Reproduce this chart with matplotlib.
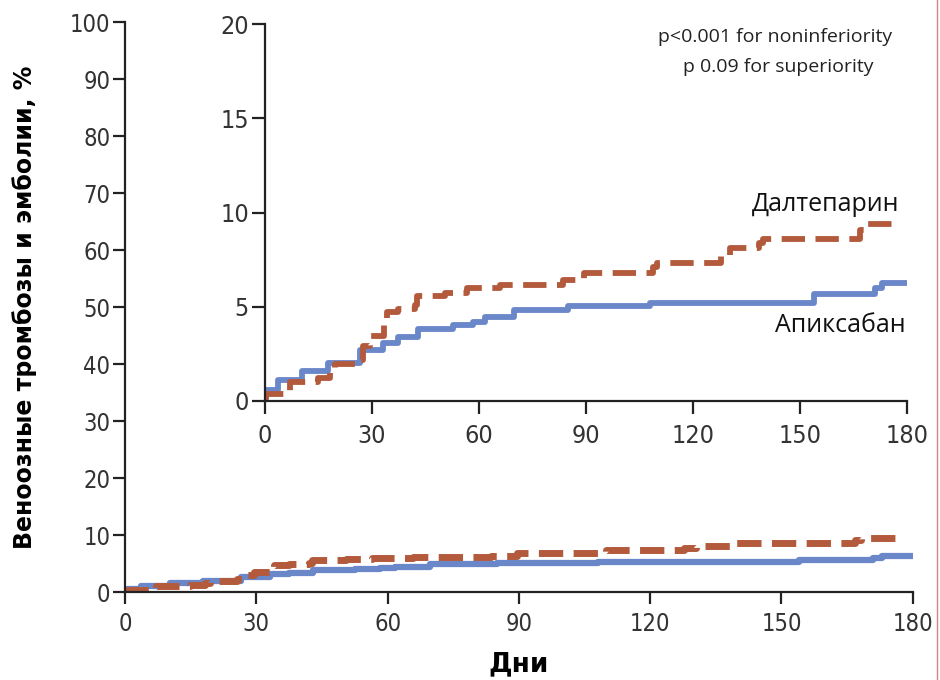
import matplotlib.pyplot as plt
from matplotlib.lines import Line2D

# Апиксабан (blue, solid)
t_apix = [0, 0.4, 3.7, 10.3, 17.8, 26.5, 33.1, 37.4, 42.9, 52.6, 58.2, 61.8, 69.7,
          84.9, 108, 154, 171, 173, 180]
v_apix = [0.2, 0.6, 1.1, 1.6, 2.0, 2.7, 3.1, 3.4, 3.8, 4.05, 4.2, 4.45, 4.85,
          5.05, 5.2, 5.65, 6.0, 6.25, 6.25]

# Далтепарин (red, dashed)
t_dalt = [0, 0.4, 7.0, 14.9, 18.2, 19.5, 25.5, 27.5, 29.4, 33.4, 34.1, 37.4, 42.0,
          42.7, 50.6, 56.5, 65.8, 83.6, 89.5, 108.7, 110, 127.8, 130.5, 138.4, 139.7,
          166.8, 168.1, 178]
v_dalt = [0.1, 0.35, 1.0, 1.2, 1.5, 1.95, 2.2, 2.9, 3.45, 4.2, 4.7, 4.9, 5.1,
          5.55, 5.75, 6.0, 6.15, 6.4, 6.8, 7.1, 7.3, 7.75, 8.1, 8.4, 8.6,
          9.05, 9.4, 9.4]

x_ticks = [0, 30, 60, 90, 120, 150, 180]
y_ticks_main = list(range(0, 101, 10))
y_ticks_inset = [0, 5, 10, 15, 20]

blue = "#6a87c9"
red = "#b35a3c"

fig = plt.figure(figsize=(9.4, 6.8), dpi=100)


def style_axes(ax, size, length, pad):
    for s in ["top", "right"]:
        ax.spines[s].set_visible(False)
    for s in ["left", "bottom"]:
        ax.spines[s].set_linewidth(1.6)
        ax.spines[s].set_color("#222222")
    ax.tick_params(direction="out", length=length, width=1.6, color="#222222",
                   labelcolor="#333333", pad=pad)
    for lab in ax.get_xticklabels() + ax.get_yticklabels():
        lab.set_fontfamily("DejaVu Sans")
        lab.set_fontstretch("condensed")
        lab.set_fontsize(size)


# основной график
ax = fig.add_axes([0.133, 0.1294, 0.838, 0.8382])
ax.step(t_apix, v_apix, where="post", color=blue, lw=4.5, solid_capstyle="butt")
ax.step(t_dalt, v_dalt, where="post", color=red, lw=5, dashes=(3.5, 1.5),
        dash_capstyle="butt")
ax.set_xlim(0, 180)
ax.set_ylim(0, 100)
ax.set_xticks(x_ticks)
ax.set_yticks(y_ticks_main)
style_axes(ax, 17, 8.5, 2)
ax.tick_params(axis="x", pad=6)
ax.set_xlabel("Дни", fontsize=19, fontweight="bold", family="DejaVu Sans", labelpad=11)
ax.set_ylabel("Веноозные тромбозы и эмболии, %", fontsize=17, fontweight="bold",
              family="DejaVu Sans")
ax.yaxis.set_label_coords(-0.112, 0.5)

# вставка
ins = fig.add_axes([0.2819, 0.4103, 0.683, 0.5544])
ins.set_facecolor("white")
ins.step(t_apix, v_apix, where="post", color=blue, lw=4.2, solid_capstyle="butt")
ins.step(t_dalt, v_dalt, where="post", color=red, lw=4.2, dashes=(4, 1.8),
         dash_capstyle="butt")
ins.set_xlim(0, 180)
ins.set_ylim(0, 20)
ins.set_xticks(x_ticks)
ins.set_yticks(y_ticks_inset)
style_axes(ins, 18, 9.5, 2)
ins.tick_params(axis="x", pad=7)

ins.text(178, 10.4, "Далтепарин", fontsize=18, family="Open Sans", ha="right", va="center",
         color="#111111")
ins.text(179.5, 4.0, "Апиксабан", fontsize=18, family="Open Sans", ha="right", va="center",
         color="#111111")
ins.text(143, 19.3, "p<0.001 for noninferiority", fontsize=14, family="Open Sans",
         ha="center", va="center", color="#222222")
ins.text(144, 17.7, "p 0.09 for superiority", fontsize=14, family="Open Sans",
         ha="center", va="center", color="#222222")

# тонкая рамка справа
fig.add_artist(Line2D([0.997, 0.997], [0.0, 1.0], color="#d98080", lw=1))

fig.savefig("out.png", dpi=100)
